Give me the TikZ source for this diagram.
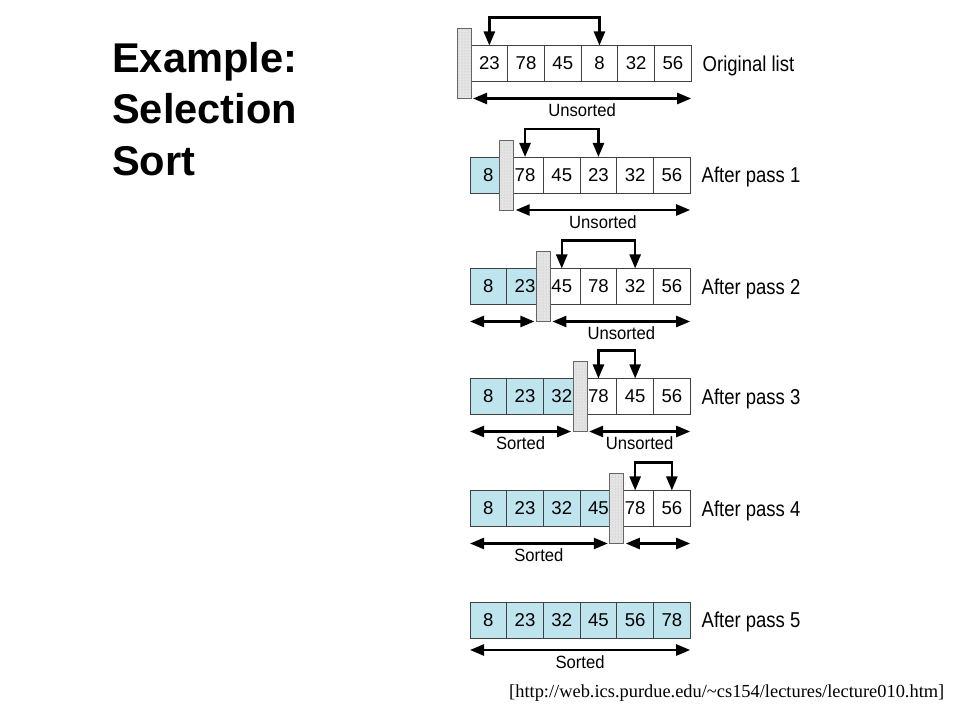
\documentclass[tikz,border=0pt]{standalone}
\usepackage{fontspec}
\setmainfont{Liberation Sans}
\newfontfamily\citefont{Liberation Serif}
\newfontfamily\passfont[FakeStretch=0.86]{Liberation Sans}
\newfontfamily\spanfont[FakeStretch=0.94]{Liberation Sans}
\usepackage{tikz}
\usetikzlibrary{shapes,arrows.meta,positioning,patterns}
\definecolor{cellblue}{RGB}{190, 228, 238}
\definecolor{wallgray}{RGB}{228, 228, 228}
\tikzstyle{cell} = [rectangle, draw=black!75, line width=0.9pt, fill=white, minimum width=36.7pt, minimum height=36pt, inner sep=0pt, outer sep=0pt, font=\fontsize{18.6}{20}\selectfont]
\tikzstyle{done} = [cell, fill=cellblue]
\tikzstyle{wall} = [rectangle, draw=black!60, line width=0.8pt, preaction={fill=wallgray}, pattern=dots, pattern color=gray!55, minimum width=14pt, minimum height=70pt, inner sep=0pt, outer sep=0pt]
\tikzstyle{swap} = [draw, line width=2.4pt, >={Triangle[length=14pt,width=11pt]}, <->]
\tikzstyle{span} = [draw, line width=2.4pt, >={Triangle[length=14pt,width=11pt]}, <->]
\tikzstyle{lbl} = [font=\spanfont\fontsize{17.7}{19}\selectfont, inner sep=2pt]
\tikzstyle{pass} = [font=\passfont\fontsize{21.5}{23}\selectfont, yshift=-2pt]

\begin{document}
\begin{tikzpicture}[x=1pt, y=1pt]
\useasboundingbox (0,0) rectangle (960,720);

% title ==================================
\node[anchor=north west, inner sep=0pt, align=left, font=\fontsize{41.6}{51.5}\selectfont\bfseries] (title) at (112,678) {Example:\\Selection\\Sort};

% original list
\node[cell] (c01) at (489.35,656.5) {23};
\node[cell, right=0pt of c01] (c02) {78};
\node[cell, right=0pt of c02] (c03) {45};
\node[cell, right=0pt of c03] (c04) {8};
\node[cell, right=0pt of c04] (c05) {32};
\node[cell, right=0pt of c05] (c06) {56};
\node[wall, anchor=east] (w0) at (c01.west) {};
\node[pass, right=8pt of c06] (p0) {Original list};

% after pass 1
\node[done] (c11) at (488.35,545) {8};
\node[cell, right=0pt of c11] (c12) {78};
\node[cell, right=0pt of c12] (c13) {45};
\node[cell, right=0pt of c13] (c14) {23};
\node[cell, right=0pt of c14] (c15) {32};
\node[cell, right=0pt of c15] (c16) {56};
\node[wall] (w1) at (c11.east) {};
\node[pass, right=8pt of c16] (p1) {After pass 1};

% after pass 2
\node[done] (c21) at (488.35,433.5) {8};
\node[done, right=0pt of c21] (c22) {23};
\node[cell, right=0pt of c22] (c23) {45};
\node[cell, right=0pt of c23] (c24) {78};
\node[cell, right=0pt of c24] (c25) {32};
\node[cell, right=0pt of c25] (c26) {56};
\node[wall] (w2) at (c22.east) {};
\node[pass, right=8pt of c26] (p2) {After pass 2};

% after pass 3
\node[done] (c31) at (488.35,323.5) {8};
\node[done, right=0pt of c31] (c32) {23};
\node[done, right=0pt of c32] (c33) {32};
\node[cell, right=0pt of c33] (c34) {78};
\node[cell, right=0pt of c34] (c35) {45};
\node[cell, right=0pt of c35] (c36) {56};
\node[wall] (w3) at (c33.east) {};
\node[pass, right=8pt of c36] (p3) {After pass 3};

% after pass 4
\node[done] (c41) at (488.35,211.5) {8};
\node[done, right=0pt of c41] (c42) {23};
\node[done, right=0pt of c42] (c43) {32};
\node[done, right=0pt of c43] (c44) {45};
\node[cell, right=0pt of c44] (c45) {78};
\node[cell, right=0pt of c45] (c46) {56};
\node[wall] (w4) at (c44.east) {};
\node[pass, right=8pt of c46] (p4) {After pass 4};

% after pass 5
\node[done] (c51) at (488.35,100) {8};
\node[done, right=0pt of c51] (c52) {23};
\node[done, right=0pt of c52] (c53) {32};
\node[done, right=0pt of c53] (c54) {45};
\node[done, right=0pt of c54] (c55) {56};
\node[done, right=0pt of c55] (c56) {78};
\node[pass, right=8pt of c56] (p5) {After pass 5};

% source
\node[anchor=base west, inner sep=0pt, font=\citefont\fontsize{18.4}{20}\selectfont] (src) at (509,23) {[http://web.ics.purdue.edu/\textasciitilde cs154/lectures/lecture010.htm]};

% swaps ==================================
\path[swap] (c01.north) -- ++(0,28pt) -| (c04.north);
\path[swap] (c12.north) -- ++(0,28pt) -| (c14.north);
\path[swap] (c23.north) -- ++(0,28pt) -| (c25.north);
\path[swap] (c34.north) -- ++(0,28pt) -| (c35.north);
\path[swap] (c45.north) -- ++(0,28pt) -| (c46.north);

% sorted / unsorted spans
\path[span] ([xshift=2pt]w0.south east) -- (w0.south -| c06.east) node[midway, below=2pt, lbl] {Unsorted};
\path[span] ([xshift=2pt]w1.south east) -- (w1.south -| c16.east) node[midway, below=2pt, lbl] {Unsorted};
\path[span] (w2.south -| c21.west) -- ([xshift=-2pt]w2.south west);
\path[span] ([xshift=2pt]w2.south east) -- (w2.south -| c26.east) node[midway, below=2pt, lbl] {Unsorted};
\path[span] (w3.south -| c31.west) -- ([xshift=-2pt]w3.south west) node[midway, below=2pt, lbl] {Sorted};
\path[span] ([xshift=2pt]w3.south east) -- (w3.south -| c36.east) node[midway, below=2pt, lbl] {Unsorted};
\path[span] (w4.south -| c41.west) -- ([xshift=-2pt]w4.south west) node[midway, below=2pt, lbl] {Sorted};
\path[span] ([xshift=2pt]w4.south east) -- (w4.south -| c46.east);
\path[span] ([yshift=-12pt]c51.south west) -- ([yshift=-12pt]c56.south east) node[midway, below=2pt, lbl] {Sorted};

\end{tikzpicture}
\end{document}
